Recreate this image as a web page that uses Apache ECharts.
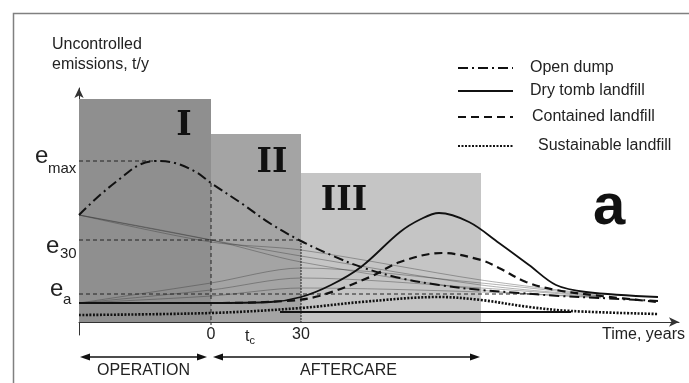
<!DOCTYPE html>
<html><head><meta charset="utf-8">
<script src="https://cdn.jsdelivr.net/npm/echarts@6/dist/echarts.min.js"></script>
<style>html,body{margin:0;padding:0;background:#fff}#c{width:689px;height:383px}</style>
</head><body><div id="c"></div>
<script>
// ---- data (years vs. uncontrolled emissions, schematic units) ----
const seriesNames = ['Open dump', 'Dry tomb landfill', 'Contained landfill', 'Sustainable landfill'];
const openDump = [[-44,107],[-37,127],[-30,144],[-24,157],[-18,161],[-12,159],[-5,150],[0,139],[10,119],[20,98],[30,81],[40,67],[50,55],[63,44],[76,37],[90,32],[103,29],[116,26],[130,24],[149,21]];
const dryTomb = [[-44,19],[0,19],[20,20],[30,25],[40,37],[50,55],[63,90],[70,103],[76,109],[86,100],[96,79],[106,57],[115,37],[125,30],[149,25]];
const contained = [[-44,19],[0,19],[25,21],[36,26],[53,45],[63,60],[77,69],[90,62],[96,54],[105,40],[115,32],[130,26],[149,20]];
const sustainable = [[-44,7],[0,9],[30,14],[50,20],[76,25],[90,22],[106,15],[120,11],[149,8]];
const baseline = [[23,10],[120,10]];
const fan1 = [[-44,107],[0,82],[30,66],[90,37],[130,26]];
const fan2 = [[-44,107],[0,82],[30,60],[90,32],[130,25]];
const fan3 = [[-44,107],[0,80],[30,72],[90,42],[130,27]];
const fan4 = [[-44,19],[0,39],[30,54],[90,39],[130,26]];
const fan5 = [[-44,19],[0,32],[30,44],[90,34],[130,25]];
const fan6 = [[-44,19],[0,26],[30,34],[90,30],[130,24]];
const phaseLabels = ['I', 'II', 'III'];
const phaseStart = [-44, 0, 30];
const phaseEnd = [0, 30, 90];
const phaseTop = [223, 188, 149];
const refSubs = ['max', '30', 'a'];
const refValues = [161, 82, 28];
const refEnds = [-18, 30, 110];
const vertX = [0, 30];
const vertTop = [139, 82];
const tickValues = [0, 13, 30];
const tickLabels = ['0', '{t|t}{c|c}', '30'];

// ---- styles ----
const phaseColors = ['#8f8f8f', '#a4a4a4', '#c5c5c5'];
const phaseLabelPos = [[105, 27], [61, 29], [43, 28]];
const FONT = 'Liberation Sans, Arial, sans-serif';

const chart = echarts.init(document.getElementById('c'));

const fanSeries = [fan1, fan2, fan3, fan4, fan5, fan6].map((d, i) => ({
  type: 'line', name: 'fan' + i, data: d, smooth: 0.3, symbol: 'none', z: 3, silent: true,
  lineStyle: { color: '#333', width: 0.7, opacity: 0.55 }
}));

const refSeries = refValues.map((v, i) => ({
  type: 'line', name: 'ref' + i, symbol: 'none', z: 4, silent: true,
  data: [[phaseStart[0], v], [refEnds[i], v]],
  lineStyle: { color: '#222', width: 1, type: [4, 3] }
}));
const vertSeries = vertX.map((x, i) => ({
  type: 'line', name: 'vert' + i, symbol: 'none', z: 4, silent: true,
  data: [[x, vertTop[i]], [x, i === 0 ? -3 : 0]],
  lineStyle: { color: '#222', width: 1, type: i === 0 ? [4, 3] : [2, 1] }
}));

const mainStyles = [
  { color: '#111', width: 2, type: [10, 4, 2, 4] },
  { color: '#111', width: 1.8, type: 'solid' },
  { color: '#111', width: 2.2, type: [8, 5] },
  { color: '#111', width: 2.6, type: [2, 1.5] }
];
const mainData = [openDump, dryTomb, contained, sustainable];
const mainSeries = mainData.map((d, i) => ({
  type: 'line', name: seriesNames[i], data: d, smooth: 0.35, symbol: 'none', z: 6,
  lineStyle: mainStyles[i], itemStyle: { color: '#111' }
}));

const legendTops = [60, 83, 109, 138];
const legendPad = [12, 12, 14, 20];
const legends = seriesNames.map((n, i) => ({
  data: [n], left: 457, top: legendTops[i], orient: 'horizontal', padding: 0,
  itemWidth: 55, itemHeight: 16, selectedMode: false,
  itemStyle: { opacity: 0 },
  textStyle: { fontFamily: FONT, fontSize: 16, color: '#222', padding: [0, 0, 0, legendPad[i]] }
}));

const option = {
  animation: false,
  backgroundColor: '#fff',
  grid: { left: 79, right: 10, top: 88, bottom: 48, containLabel: false },
  legend: legends,
  xAxis: {
    type: 'value', min: -44, max: 156,
    axisLine: { onZero: true, symbol: ['none', 'arrow'], symbolSize: [7, 10], lineStyle: { color: '#333', width: 1 } },
    axisTick: { show: true, inside: true, length: 5, customValues: [tickValues[1]], lineStyle: { color: '#333' } },
    splitLine: { show: false },
    axisLabel: {
      customValues: tickValues, margin: -8, fontFamily: FONT, fontSize: 16, color: '#222',
      formatter: v => tickLabels[tickValues.indexOf(v)] || '',
      rich: { t: { fontFamily: FONT, fontSize: 16, color: '#222' }, c: { fontFamily: FONT, fontSize: 11, color: '#222', verticalAlign: 'bottom', padding: [8, 0, 0, 0] } }
    }
  },
  yAxis: {
    type: 'value', min: -13, max: 234,
    axisLine: { show: true, onZero: false, symbol: ['none', 'arrow'], symbolSize: [7, 10], lineStyle: { color: '#333', width: 1 } },
    axisTick: { show: false }, axisLabel: { show: false }, splitLine: { show: false }
  },
  series: [
    {
      type: 'line', name: 'phases', data: [], symbol: 'none', z: 1, silent: true,
      markArea: {
        silent: true,
        data: phaseLabels.map((p, i) => [
          { name: p, coord: [phaseStart[i], 0], itemStyle: { color: phaseColors[i], opacity: 1 },
            label: { show: true, position: phaseLabelPos[i], align: 'center', verticalAlign: 'middle',
              fontFamily: 'DejaVu Serif, serif', fontWeight: 'bold', fontSize: 33, color: '#111' } },
          { coord: [phaseEnd[i], phaseTop[i]] }
        ])
      }
    },
    ...fanSeries, ...refSeries, ...vertSeries, ...mainSeries,
    { type: 'line', name: 'base', data: baseline, symbol: 'none', z: 5, silent: true, lineStyle: { color: '#111', width: 2 } }
  ],
  graphic: [
    { type: 'rect', left: 11, top: 11, shape: { width: 700, height: 400 }, style: { fill: 'none', stroke: '#808080', lineWidth: 1.5 }, z: 0 },
    { type: 'text', left: 52, top: 35, style: { text: 'Uncontrolled\nemissions, t/y', font: '16px ' + FONT, fill: '#222', lineHeight: 20 } },
    { type: 'text', left: 602, top: 327, style: { text: 'Time, years', font: '16px ' + FONT, fill: '#222' } },
    { type: 'text', left: 593, top: 179, style: { text: 'a', font: 'bold 58px ' + FONT, fill: '#111' } },
    { type: 'text', left: 35, top: 144, style: { text: 'e', font: '24px ' + FONT, fill: '#222' } },
    { type: 'text', left: 48, top: 161, style: { text: refSubs[0], font: '15px ' + FONT, fill: '#222' } },
    { type: 'text', left: 46, top: 234, style: { text: 'e', font: '24px ' + FONT, fill: '#222' } },
    { type: 'text', left: 60, top: 246, style: { text: refSubs[1], font: '15px ' + FONT, fill: '#222' } },
    { type: 'text', left: 50, top: 277, style: { text: 'e', font: '24px ' + FONT, fill: '#222' } },
    { type: 'text', left: 63, top: 292, style: { text: refSubs[2], font: '15px ' + FONT, fill: '#222' } },
    // bottom phase arrows
    { type: 'line', shape: { x1: 84, y1: 357, x2: 203, y2: 357 }, style: { stroke: '#111', lineWidth: 1.5 } },
    { type: 'polygon', shape: { points: [[80, 357], [90, 353.5], [90, 360.5]] }, style: { fill: '#111' } },
    { type: 'polygon', shape: { points: [[207, 357], [197, 353.5], [197, 360.5]] }, style: { fill: '#111' } },
    { type: 'line', shape: { x1: 217, y1: 357, x2: 475, y2: 357 }, style: { stroke: '#111', lineWidth: 1.5 } },
    { type: 'polygon', shape: { points: [[213, 357], [223, 353.5], [223, 360.5]] }, style: { fill: '#111' } },
    { type: 'polygon', shape: { points: [[480, 357], [470, 353.5], [470, 360.5]] }, style: { fill: '#111' } },
    { type: 'text', left: 97, top: 363, style: { text: 'OPERATION', font: '16px ' + FONT, fill: '#222' } },
    { type: 'text', left: 300, top: 363, style: { text: 'AFTERCARE', font: '16px ' + FONT, fill: '#222' } }
  ]
};
chart.setOption(option);
</script></body></html>
